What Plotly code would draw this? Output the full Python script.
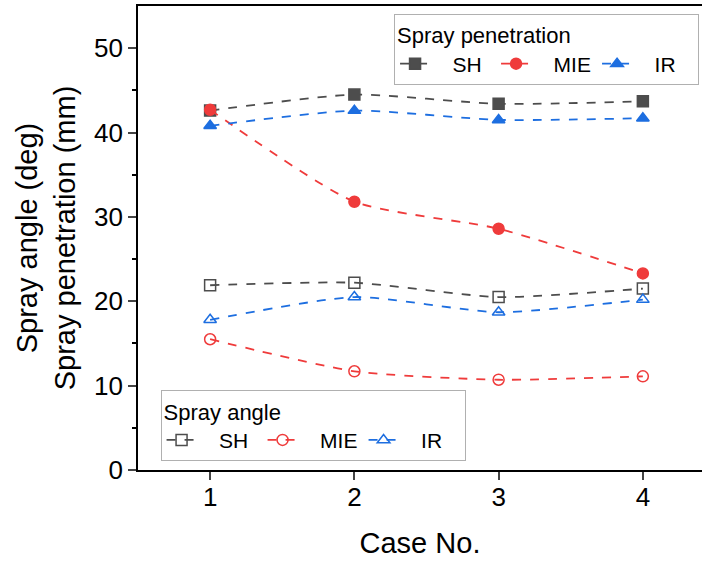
import plotly.graph_objects as go

cases = [1, 2, 3, 4]
pen_sh = [42.6, 44.5, 43.4, 43.7]
pen_mie = [42.7, 31.8, 28.6, 23.3]
pen_ir = [40.8, 42.6, 41.5, 41.7]
ang_sh = [21.9, 22.2, 20.5, 21.5]
ang_mie = [15.5, 11.7, 10.7, 11.1]
ang_ir = [17.8, 20.5, 18.7, 20.2]
series_names = ["SH", "MIE", "IR"]

C_SH = "#4d4d4d"
C_MIE = "#ef3b3b"
C_IR = "#1d6ee0"
FONT = "Liberation Sans, Arial, sans-serif"
PAD = "\u00a0\u00a0\u00a0"

fig = go.Figure()

def add(y, name, color, symbol, legend):
    fig.add_trace(go.Scatter(
        x=cases, y=y, name=PAD + name, mode="lines+markers", legend=legend,
        line=dict(color=color, width=1.8, dash="dash", shape="spline", smoothing=0.6),
        marker=dict(symbol=symbol, size=11, color=color,
                    line=dict(color=color, width=1.5)),
    ))

add(pen_sh, series_names[0], C_SH, "square", "legend")
add(pen_mie, series_names[1], C_MIE, "circle", "legend")
add(pen_ir, series_names[2], C_IR, "triangle-up", "legend")
add(ang_sh, series_names[0], C_SH, "square-open", "legend2")
add(ang_mie, series_names[1], C_MIE, "circle-open", "legend2")
add(ang_ir, series_names[2], C_IR, "triangle-up-open", "legend2")

leg_common = dict(
    orientation="h", bgcolor="white", bordercolor="#b0b0b0", borderwidth=1,
    font=dict(family=FONT, size=21, color="black"),
    xanchor="left", yanchor="top", entrywidth=56, tracegroupgap=0,
)

fig.update_layout(
    width=702, height=561,
    margin=dict(l=138, r=0, t=6, b=91),
    plot_bgcolor="white", paper_bgcolor="white",
    font=dict(family=FONT, size=20, color="black"),
    showlegend=True,
    legend=dict(**leg_common, x=0.454, y=0.983,
                title=dict(text="Spray penetration", side="top",
                           font=dict(family=FONT, size=22, color="black"))),
    legend2=dict(**leg_common, x=0.04, y=0.172,
                 title=dict(text="Spray angle", side="top",
                            font=dict(family=FONT, size=22, color="black"))),
    xaxis=dict(
        range=[0.5, 4.41], tickvals=cases, ticks="outside", ticklen=8, tickwidth=1.5,
        showline=True, linecolor="black", linewidth=1.8, mirror=True,
        showgrid=False, zeroline=False, ticklabelstandoff=-5,
        tickfont=dict(family=FONT, size=26),
        title=dict(text="Case No.", font=dict(family=FONT, size=29), standoff=22),
    ),
    yaxis=dict(
        range=[0, 55], tickvals=[0, 10, 20, 30, 40, 50], ticks="outside", ticklen=8, tickwidth=1.5,
        minor=dict(tickvals=[5, 15, 25, 35, 45], ticks="outside", ticklen=4, tickwidth=1.5, tickcolor="black"),
        showline=True, linecolor="black", linewidth=1.8,
        showgrid=False, zeroline=False,
        tickfont=dict(family=FONT, size=26),
        title=dict(text="Spray angle (deg)<br>Spray penetration (mm)", font=dict(family=FONT, size=29), standoff=10),
    ),
)

fig.write_html("out.html")
